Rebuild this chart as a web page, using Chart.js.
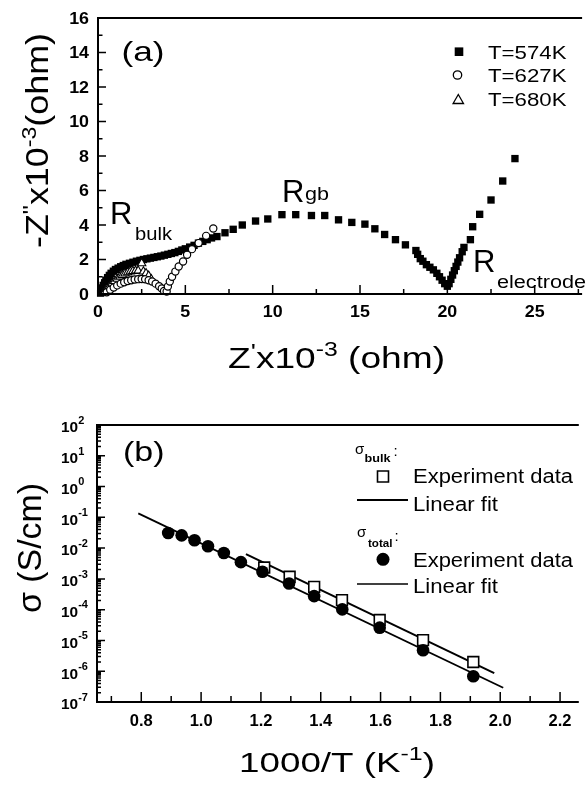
<!DOCTYPE html>
<html>
<head>
<meta charset="utf-8">
<script src="https://cdn.jsdelivr.net/npm/chart.js@4.4.0/dist/chart.umd.min.js"></script>
<style>
  body { margin: 0; background: #fff; width: 586px; height: 789px; overflow: hidden; }
  canvas { display: block; }
</style>
</head>
<body>
<canvas id="nyquist" width="586" height="400"></canvas>
<canvas id="arrhenius" width="586" height="389"></canvas>
<script>
// (a) impedance, Z' and -Z'' in units of 10^3 ohm
const z574x = [0.15,0.2,0.25,0.3,0.38,0.45,0.55,0.65,0.75,0.88,1.0,1.15,1.3,1.45,1.6,1.8,2.0,2.2,2.4,2.6,2.8,3.0,3.2,3.4,3.6,3.8,4.0,4.2,4.4,4.6,4.8,5.0,5.25,5.5,5.75,6.0,6.25,6.5,6.81,7.27,7.74,8.26,9.02,9.72,10.53,11.32,12.22,12.98,13.77,14.53,15.28,15.85,16.41,17.03,17.6,18.2,18.3,18.45,18.6,18.8,19.0,19.2,19.4,19.55,19.7,19.85,20.0,20.1,20.2,20.3,20.4,20.5,20.6,20.7,20.85,20.95,21.32,21.45,21.85,22.5,23.17,23.87];
const z574y = [0.05,0.2,0.35,0.5,0.65,0.8,0.95,1.08,1.2,1.32,1.42,1.5,1.58,1.65,1.72,1.78,1.84,1.9,1.95,2.0,2.04,2.08,2.12,2.16,2.2,2.25,2.3,2.35,2.4,2.47,2.55,2.62,2.72,2.82,2.95,3.05,3.15,3.25,3.33,3.55,3.75,4.0,4.23,4.35,4.6,4.6,4.55,4.55,4.3,4.15,4.05,3.78,3.45,3.15,2.85,2.52,2.3,2.05,1.9,1.7,1.55,1.4,1.2,1.0,0.8,0.6,0.45,0.6,0.85,1.1,1.35,1.6,1.85,2.1,2.45,2.7,3.15,3.9,4.62,5.45,6.55,7.85];
const z627x = [0.5,0.7,0.9,1.1,1.3,1.5,1.7,1.9,2.1,2.3,2.5,2.7,2.9,3.1,3.3,3.5,3.65,3.78,3.93,4.0,4.11,4.24,4.43,4.62,4.87,5.1,5.38,5.76,6.19,6.6];
const z627y = [0.1,0.25,0.38,0.5,0.6,0.68,0.75,0.8,0.84,0.86,0.87,0.85,0.8,0.72,0.6,0.45,0.32,0.18,0.14,0.43,0.72,1.0,1.3,1.59,1.88,2.27,2.6,2.95,3.37,3.8];
const z680x = [0.3,0.4,0.5,0.65,0.8,0.95,1.1,1.25,1.4,1.55,1.7,1.85,2.0,2.15,2.3,2.5,2.6,2.75,2.9,3.05];
const z680y = [0.05,0.15,0.3,0.45,0.6,0.75,0.88,1.0,1.1,1.18,1.25,1.3,1.33,1.35,1.35,1.78,1.3,1.2,1.05,0.85];
const aLegend = ['T=574K', 'T=627K', 'T=680K'];
const aXTicks = [0, 5, 10, 15, 20, 25];
const aYTicks = [0, 2, 4, 6, 8, 10, 12, 14, 16];

// (b) conductivity (S/cm) against 1000/T (1/K)
const invT = [0.89,0.935,0.978,1.023,1.076,1.133,1.205,1.294,1.378,1.472,1.597,1.742,1.91];
const sigTotal = [3.1e-2,2.6e-2,1.8e-2,1.15e-2,6.9e-3,3.5e-3,1.7e-3,7.1e-4,2.75e-4,1.02e-4,2.6e-5,4.8e-6,6.9e-7];
const invTBulk = [1.211,1.296,1.378,1.471,1.597,1.742,1.91];
const sigBulk = [2.35e-3,1.17e-3,5.5e-4,2.04e-4,4.6e-5,1.02e-5,2.0e-6];
const fitTotalX = [0.79, 2.01];
const fitTotalY = [1.35e-1, 2.9e-7];
const fitBulkX = [1.15, 1.98];
const fitBulkY = [6.35e-3, 8.7e-7];
const bXTicks = [0.8, 1.0, 1.2, 1.4, 1.6, 1.8, 2.0, 2.2];
const bXLabels = ['0.8', '1.0', '1.2', '1.4', '1.6', '1.8', '2.0', '2.2'];
const bYExp = [2, 1, 0, -1, -2, -3, -4, -5, -6, -7];

const pts = (xs, ys) => xs.map((v, i) => ({ x: v, y: ys[i] }));
const font = (s, b) => (b ? 'bold ' : '') + s + 'px "Liberation Sans", Arial, sans-serif';

// draws a run of text pieces, optionally squeezed/stretched to a width
function drawText(ctx, parts, x, y, o = {}) {
  let w = 0;
  for (const p of parts) { ctx.font = font(p.s, p.b); p.w = ctx.measureText(p.t).width; w += p.w; }
  const sx = o.width ? o.width / w : (o.sx || 1);
  ctx.save();
  ctx.translate(x, y);
  if (o.rot) ctx.rotate(o.rot);
  ctx.scale(sx, 1);
  let cx = o.align === 'center' ? -w / 2 : o.align === 'right' ? -w : 0;
  ctx.fillStyle = '#000';
  ctx.textAlign = 'left';
  ctx.textBaseline = o.base || 'alphabetic';
  for (const p of parts) { ctx.font = font(p.s, p.b); ctx.fillText(p.t, cx, p.dy || 0); cx += p.w; }
  ctx.restore();
}

function marker(ctx, kind, x, y, r) {
  ctx.save();
  ctx.strokeStyle = '#000'; ctx.fillStyle = '#000'; ctx.lineWidth = 1.3;
  ctx.beginPath();
  if (kind === 'square') { ctx.fillRect(x - r, y - r, 2 * r, 2 * r); }
  else if (kind === 'osquare') { ctx.fillStyle = '#fff'; ctx.rect(x - r, y - r, 2 * r, 2 * r); ctx.fill(); ctx.lineWidth = 1.6; ctx.stroke(); }
  else if (kind === 'circle') { ctx.arc(x, y, r, 0, Math.PI * 2); ctx.fill(); }
  else if (kind === 'ocircle') { ctx.arc(x, y, r, 0, Math.PI * 2); ctx.stroke(); }
  else if (kind === 'otriangle') {
    ctx.moveTo(x, y - r);
    ctx.lineTo(x + r * 0.866, y + r / 2);
    ctx.lineTo(x - r * 0.866, y + r / 2);
    ctx.closePath(); ctx.stroke();
  }
  ctx.restore();
}

const panelA = {
  id: 'panelA',
  afterDatasetsDraw(chart) {
    const { ctx, chartArea: a, scales: { x, y } } = chart;
    ctx.save();
    ctx.strokeStyle = '#000';
    ctx.lineWidth = 2;
    ctx.beginPath();
    ctx.moveTo(a.right + 2, a.top); ctx.lineTo(a.left, a.top);
    ctx.lineTo(a.left, a.bottom); ctx.lineTo(a.right + 2, a.bottom);
    ctx.stroke();
    ctx.lineWidth = 1.5;
    ctx.beginPath();
    for (let v = 0; v <= 27.5; v += 2.5) {
      const px = x.getPixelForValue(v), len = v % 5 === 0 ? 9 : 5;
      ctx.moveTo(px, a.bottom); ctx.lineTo(px, a.bottom - len);
    }
    for (let v = 0; v <= 16; v += 1) {
      const py = y.getPixelForValue(v), len = v % 2 === 0 ? 8 : 4.5;
      ctx.moveTo(a.left, py); ctx.lineTo(a.left + len, py);
    }
    ctx.stroke();
    ctx.restore();

    aXTicks.forEach(v => drawText(ctx, [{ t: String(v), s: 17, b: true }], x.getPixelForValue(v), 312, { align: 'center', base: 'middle', sx: 1.05 }));
    aYTicks.forEach(v => drawText(ctx, [{ t: String(v), s: 17, b: true }], 89, y.getPixelForValue(v) + 1, { align: 'right', base: 'middle', sx: 1.05 }));

    drawText(ctx, [{ t: 'Z', s: 30 }, { t: '\'', s: 22, dy: -9 }, { t: 'x10', s: 30 }, { t: '-3', s: 20, dy: -12 }, { t: ' (ohm)', s: 30 }], 228, 368, { width: 217 });
    drawText(ctx, [{ t: '-Z', s: 31 }, { t: '"', s: 22, dy: -10 }, { t: 'x10', s: 31 }, { t: '-3', s: 20, dy: -12 }, { t: '(ohm)', s: 31 }], 48, 248, { rot: -Math.PI / 2, width: 215 });
    drawText(ctx, [{ t: '(a)', s: 28 }], 121.5, 61, { width: 43 });

    drawText(ctx, [{ t: 'R', s: 31 }], 110, 223.5, { sx: 1.0 });
    drawText(ctx, [{ t: 'bulk', s: 18.5 }], 135, 240, { width: 37 });
    drawText(ctx, [{ t: 'R', s: 31 }], 282, 202, { sx: 1.0 });
    drawText(ctx, [{ t: 'gb', s: 18.5 }], 305, 200, { width: 24 });
    drawText(ctx, [{ t: 'R', s: 31 }], 473, 272, { sx: 1.0 });
    drawText(ctx, [{ t: 'electrode', s: 18 }], 497, 288.3, { width: 89 });

    marker(ctx, 'square', 459, 51.7, 4.3);
    marker(ctx, 'ocircle', 457.5, 75, 4.2);
    marker(ctx, 'otriangle', 458.3, 100.5, 6);
    [59.3, 81.7, 105.7].forEach((by, i) => drawText(ctx, [{ t: aLegend[i], s: 17.5 }], 488, by, { width: 78.5 }));
  }
};

const panelB = {
  id: 'panelB',
  afterDatasetsDraw(chart) {
    const { ctx, chartArea: a, scales: { x, y } } = chart;
    ctx.save();
    ctx.strokeStyle = '#000';
    ctx.lineWidth = 2;
    ctx.beginPath();
    ctx.moveTo(a.right + 2, a.top); ctx.lineTo(a.left, a.top);
    ctx.lineTo(a.left, a.bottom); ctx.lineTo(a.right + 2, a.bottom);
    ctx.stroke();
    ctx.lineWidth = 1.5;
    ctx.beginPath();
    for (let k = 7; k <= 22; k++) {
      const px = x.getPixelForValue(k / 10), len = k % 2 === 0 ? 10 : 6;
      ctx.moveTo(px, a.bottom); ctx.lineTo(px, a.bottom - len);
    }
    for (let e = -7; e <= 2; e++) {
      const py = y.getPixelForValue(Math.pow(10, e));
      ctx.moveTo(a.left, py); ctx.lineTo(a.left + 8, py);
      if (e < 2) {
        for (let m = 2; m <= 9; m++) {
          const pm = y.getPixelForValue(m * Math.pow(10, e));
          ctx.moveTo(a.left, pm); ctx.lineTo(a.left + 4, pm);
        }
      }
    }
    ctx.stroke();
    ctx.restore();

    bXTicks.forEach((v, i) => drawText(ctx, [{ t: bXLabels[i], s: 16.5, b: true }], x.getPixelForValue(v), 321.7, { align: 'center', base: 'middle' }));
    bYExp.forEach(e => {
      const py = y.getPixelForValue(Math.pow(10, e));
      drawText(ctx, [{ t: '10', s: 14, b: true, dy: 3.5 }, { t: String(e), s: 10, b: true, dy: -4 }], 61, py, { base: 'middle', sx: 1.1 });
    });

    drawText(ctx, [{ t: '1000/T (K', s: 28 }, { t: '-1', s: 19, dy: -12 }, { t: ')', s: 28 }], 239, 371.7, { width: 196 });
    drawText(ctx, [{ t: 'σ', s: 34 }, { t: ' (S/cm)', s: 34 }], 41, 213, { rot: -Math.PI / 2, width: 130 });
    drawText(ctx, [{ t: '(b)', s: 28 }], 123, 61, { width: 41.5 });

    drawText(ctx, [{ t: 'σ', s: 15 }], 355, 54, {});
    drawText(ctx, [{ t: 'bulk', s: 10, b: true }], 364.5, 61.7, { width: 26 });
    drawText(ctx, [{ t: ':', s: 15 }], 393.5, 56, {});
    marker(ctx, 'osquare', 383, 76.5, 5.5);
    drawText(ctx, [{ t: 'Experiment data', s: 19.5 }], 413, 83.3, { width: 160 });
    drawText(ctx, [{ t: 'Linear fit', s: 19.5 }], 413, 110.7, { width: 85 });
    drawText(ctx, [{ t: 'σ', s: 15 }], 357, 136.7, {});
    drawText(ctx, [{ t: 'total', s: 10, b: true }], 368, 146.7, { width: 24.5 });
    drawText(ctx, [{ t: ':', s: 15 }], 394.5, 141, {});
    marker(ctx, 'circle', 383, 159.3, 6.5);
    drawText(ctx, [{ t: 'Experiment data', s: 19.5 }], 413, 166.7, { width: 160 });
    drawText(ctx, [{ t: 'Linear fit', s: 19.5 }], 413, 193.3, { width: 85 });
    ctx.save();
    ctx.strokeStyle = '#000';
    ctx.beginPath(); ctx.lineWidth = 2; ctx.moveTo(357, 100); ctx.lineTo(408, 100); ctx.stroke();
    ctx.beginPath(); ctx.lineWidth = 1.6; ctx.moveTo(357, 184); ctx.lineTo(408, 184); ctx.stroke();
    ctx.restore();
  }
};

const base = {
  responsive: false,
  animation: false,
  events: [],
  plugins: { legend: { display: false }, tooltip: { enabled: false } }
};

new Chart(document.getElementById('nyquist'), {
  type: 'scatter',
  data: {
    datasets: [
      { label: aLegend[1], data: pts(z627x, z627y), order: 0, clip: false, pointStyle: 'circle', pointRadius: 3.6, pointBorderWidth: 1.2, pointBackgroundColor: '#fff', pointBorderColor: '#000' },
      { label: aLegend[2], data: pts(z680x, z680y), order: 1, clip: false, pointStyle: 'triangle', pointRadius: 4.8, pointBorderWidth: 1.1, pointBackgroundColor: '#fff', pointBorderColor: '#000' },
      { label: aLegend[0], data: pts(z574x, z574y), order: 2, clip: false, pointStyle: 'rect', pointRadius: 5.2, pointBorderWidth: 0, pointBackgroundColor: '#000', pointBorderColor: '#000' }
    ]
  },
  options: Object.assign({}, base, {
    layout: { padding: { left: 98, top: 18, right: 0, bottom: 106 } },
    scales: {
      x: { type: 'linear', min: 0, max: 27.6, display: false },
      y: { type: 'linear', min: 0, max: 16, display: false }
    }
  }),
  plugins: [panelA]
});

new Chart(document.getElementById('arrhenius'), {
  type: 'scatter',
  data: {
    datasets: [
      { label: 'total fit', data: pts(fitTotalX, fitTotalY), order: 2, showLine: true, borderColor: '#000', borderWidth: 1.8, pointRadius: 0, clip: false },
      { label: 'bulk fit', data: pts(fitBulkX, fitBulkY), order: 2, showLine: true, borderColor: '#000', borderWidth: 2, pointRadius: 0, clip: false },
      { label: 'bulk', data: pts(invTBulk, sigBulk), order: 1, clip: false, pointStyle: 'rect', pointRadius: 7.6, pointBorderWidth: 1.6, pointBackgroundColor: '#fff', pointBorderColor: '#000' },
      { label: 'total', data: pts(invT, sigTotal), order: 0, clip: false, pointStyle: 'circle', pointRadius: 6.3, pointBorderWidth: 0, pointBackgroundColor: '#000', pointBorderColor: '#000' }
    ]
  },
  options: Object.assign({}, base, {
    layout: { padding: { left: 97, top: 25, right: 0, bottom: 87 } },
    scales: {
      x: { type: 'linear', min: 0.652, max: 2.256, display: false },
      y: { type: 'logarithmic', min: 1e-7, max: 1e2, display: false }
    }
  }),
  plugins: [panelB]
});
</script>
</body>
</html>
